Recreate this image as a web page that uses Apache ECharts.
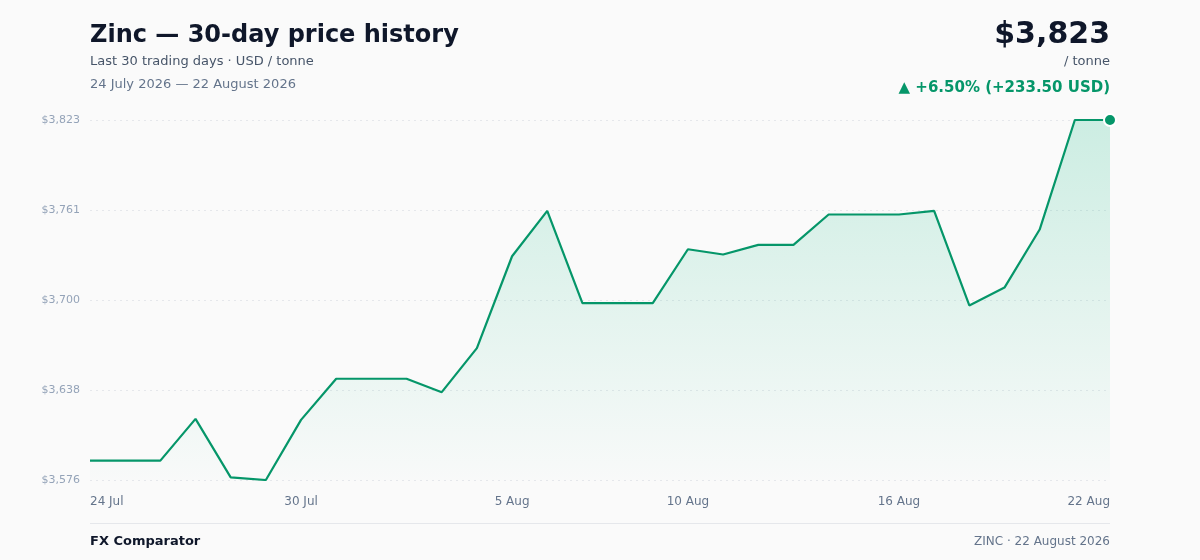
<!DOCTYPE html>
<html>
<head>
<meta charset="utf-8">
<script src="https://cdn.jsdelivr.net/npm/echarts@6/dist/echarts.min.js"></script>
<style>
  html, body { margin: 0; padding: 0; background: #fafafa; }
  #chart { width: 1200px; height: 560px; }
</style>
</head>
<body>
<div id="chart"></div>
<script>
const dates = [
  '24 Jul', '25 Jul', '26 Jul', '27 Jul', '28 Jul', '29 Jul', '30 Jul', '31 Jul',
  '1 Aug', '2 Aug', '3 Aug', '4 Aug', '5 Aug', '6 Aug', '7 Aug', '8 Aug',
  '9 Aug', '10 Aug', '11 Aug', '12 Aug', '13 Aug', '14 Aug', '15 Aug', '16 Aug',
  '17 Aug', '18 Aug', '19 Aug', '20 Aug', '21 Aug', '22 Aug'
];
const prices = [
  3589.5, 3589.5, 3589.5, 3618.1, 3578.0, 3576.2, 3617.4, 3645.6,
  3645.6, 3645.6, 3636.4, 3666.6, 3729.6, 3760.7, 3697.5, 3697.5,
  3697.5, 3734.4, 3730.8, 3737.4, 3737.4, 3758.2, 3758.2, 3758.2,
  3760.7, 3695.9, 3708.1, 3747.9, 3823.0, 3823.0
];
const labelDays = [0, 6, 12, 17, 23, 29];

const green = '#059669';
const font = 'DejaVu Sans';

const yMin = Math.min(...prices);
const yMax = Math.max(...prices);
const yStep = (yMax - yMin) / 4;

const myChart = echarts.init(document.getElementById('chart'));

// small helper so every header/footer text sits exactly where asked
const txt = (text, pos, size, weight, color) => Object.assign({
  text,
  padding: 0,
  textStyle: { fontSize: size, fontWeight: weight, color, fontFamily: font }
}, pos);

const option = {
  backgroundColor: '#fafafa',
  textStyle: { fontFamily: font },
  title: [
    txt('Zinc — 30-day price history', { left: 90, top: 24 }, 24, 'bold', '#0f172a'),
    txt('Last 30 trading days · USD / tonne', { left: 90, top: 55 }, 13, 'normal', '#475569'),
    txt('24 July 2026 — 22 August 2026', { left: 90, top: 78 }, 13, 'normal', '#64748b'),
    txt('$3,823', { right: 90, top: 20 }, 30, 'bold', '#0f172a'),
    txt('/ tonne', { right: 90, top: 55 }, 13, 'normal', '#475569'),
    txt('▲ +6.50% (+233.50 USD)', { right: 90, top: 81 }, 15, 'bold', green),
    txt('FX Comparator', { left: 90, top: 535 }, 13, 'bold', '#0f172a'),
    txt('ZINC · 22 August 2026', { right: 90, top: 536 }, 12, 'normal', '#64748b')
  ],
  graphic: [
    {
      type: 'line',
      shape: { x1: 90, y1: 523.5, x2: 1110, y2: 523.5 },
      style: { stroke: '#e5e7eb', lineWidth: 1 }
    }
  ],
  grid: { left: 90, right: 90, top: 120, bottom: 80, containLabel: false },
  xAxis: {
    type: 'category',
    data: dates,
    boundaryGap: false,
    axisLine: { show: false },
    axisTick: { show: false },
    axisLabel: {
      interval: (i) => labelDays.includes(i),
      color: '#64748b',
      fontSize: 12,
      margin: 16,
      fontFamily: font,
      alignMinLabel: 'left',
      alignMaxLabel: 'right'
    },
    splitLine: { show: false }
  },
  yAxis: {
    type: 'value',
    min: yMin,
    max: yMax,
    interval: yStep,
    axisLine: { show: false },
    axisTick: { show: false },
    axisLabel: {
      color: '#94a3b8',
      fontSize: 11,
      margin: 10,
      fontFamily: font,
      formatter: (v) => '$' + Math.round(v).toLocaleString('en-US')
    },
    splitLine: { lineStyle: { color: '#e5e7eb', type: [2, 4], width: 1 } }
  },
  series: [
    {
      type: 'line',
      data: prices,
      symbol: 'none',
      lineStyle: { color: green, width: 2.2 },
      areaStyle: {
        color: new echarts.graphic.LinearGradient(0, 0, 0, 1, [
          { offset: 0, color: 'rgba(16,185,129,0.28)' },
          { offset: 1, color: 'rgba(16,185,129,0.01)' }
        ])
      },
      markPoint: {
        symbol: 'circle',
        symbolSize: 12,
        itemStyle: { color: green, borderColor: '#ffffff', borderWidth: 2 },
        label: { show: false },
        data: [{ coord: [dates.length - 1, prices[prices.length - 1]] }]
      },
      silent: true
    }
  ],
  animation: false
};

option && myChart.setOption(option);
</script>
</body>
</html>
